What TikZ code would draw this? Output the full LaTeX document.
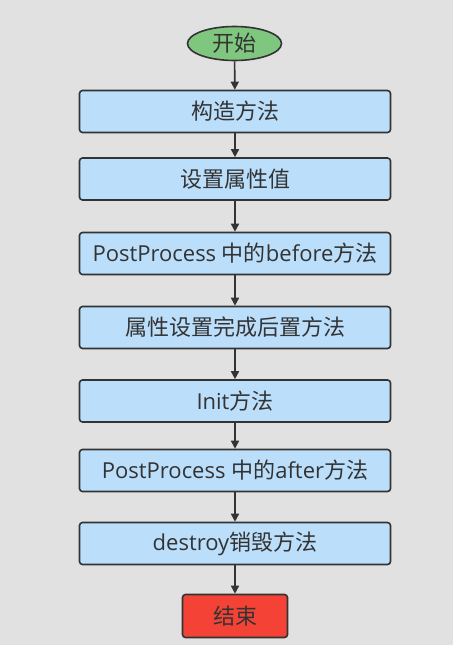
\documentclass[tikz,border=0pt]{standalone}
\usepackage{fontspec}
\setmainfont{Open Sans}
\newfontfamily\cjk{Noto Sans CJK SC}
\usetikzlibrary{arrows.meta,shapes.geometric}
\definecolor{bg}{HTML}{E1E1E1}
\definecolor{boxblue}{HTML}{BBDEFB}
\definecolor{startgreen}{HTML}{7FC67F}
\definecolor{endred}{HTML}{F44336}
\definecolor{ink}{HTML}{333333}
\begin{document}
\begin{tikzpicture}[x=1pt,y=-1pt,
  base/.style={draw=ink, line width=1.6pt, text=ink, inner sep=0pt, font=\fontsize{22}{25}\selectfont},
  proc/.style={base, fill=boxblue, rounded corners=3pt, minimum width=311pt, minimum height=42pt},
  startnode/.style={base, ellipse, fill=startgreen, minimum width=94pt, minimum height=34pt},
  endnode/.style={base, fill=endred, rounded corners=3pt, minimum width=105pt, minimum height=43pt},
  link/.style={draw=ink, line width=1.6pt, -{Triangle[length=8pt,width=8pt]}}]
\fill[bg] (0,0) rectangle (453,645);
\useasboundingbox (0,0) rectangle (453,645);
\node[startnode] (s) at (234.5,43.5) {\cjk 开始};
\node[proc] (b1) at (235,111.5) {\cjk 构造方法};
\node[proc] (b2) at (235,179) {\cjk 设置属性值};
\node[proc] (b3) at (235,253.5) {PostProcess {\cjk 中的}before{\cjk 方法}};
\node[proc] (b4) at (235,327.5) {\cjk 属性设置完成后置方法};
\node[proc] (b5) at (235,401) {Init{\cjk 方法}};
\node[proc] (b6) at (235,470.5) {PostProcess {\cjk 中的}after{\cjk 方法}};
\node[proc] (b7) at (235,543.5) {destroy{\cjk 销毁方法}};
\node[endnode] (e) at (235,616) {\cjk 结束};
\draw[link] (s) -- (b1);
\draw[link] (b1) -- (b2);
\draw[link] (b2) -- (b3);
\draw[link] (b3) -- (b4);
\draw[link] (b4) -- (b5);
\draw[link] (b5) -- (b6);
\draw[link] (b6) -- (b7);
\draw[link] (b7) -- (e);
\end{tikzpicture}
\end{document}
